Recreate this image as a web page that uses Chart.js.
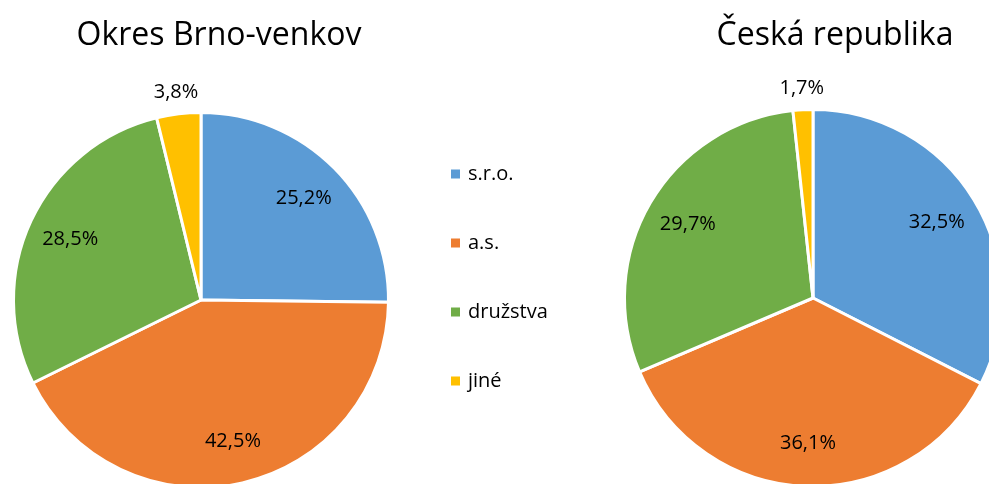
<!DOCTYPE html>
<html>
<head>
<meta charset="utf-8">
<script src="https://cdn.jsdelivr.net/npm/chart.js@4"></script>
<style>
html, body { margin:0; padding:0; background:#fff; overflow:hidden; width:989px; height:484px; }
#left { position:absolute; left:0; top:0; }
#right { position:absolute; left:600px; top:0; }
</style>
</head>
<body>
<canvas id="left" width="600" height="500"></canvas>
<canvas id="right" width="420" height="500"></canvas>
<script>
'use strict';

//Data
var categories = ['s.r.o.', 'a.s.', 'družstva', 'jiné'];
var brnoVenkov = [25.2, 42.5, 28.5, 3.8];       //Okres Brno-venkov
var ceskaRepublika = [32.5, 36.1, 29.7, 1.7];   //Česká republika
var colors = ['#5B9BD5', '#ED7D31', '#70AD47', '#FFC000'];

var fontName = '"Open Sans", "Noto Sans", sans-serif';

function fmt(v){
    return v.toFixed(1).replace('.', ',') + '%';
}

//Percent labels on slices, small slices go outside
var pieLabels = {
    id: 'pieLabels',
    afterDatasetsDraw: function(chart){
        var ctx = chart.ctx;
        var ds = chart.data.datasets[0];
        var meta = chart.getDatasetMeta(0);
        ctx.save();
        ctx.font = '20px ' + fontName;
        ctx.fillStyle = '#000';
        ctx.textAlign = 'center';
        ctx.textBaseline = 'middle';
        meta.data.forEach(function(arc, i){
            var p = arc.getProps(['x', 'y', 'startAngle', 'endAngle', 'outerRadius'], true);
            var mid = (p.startAngle + p.endAngle) / 2;
            var r = ds.data[i] < 5 ? p.outerRadius + 22 : p.outerRadius * 0.77;
            ctx.fillText(fmt(ds.data[i]), p.x + Math.cos(mid) * r, p.y + Math.sin(mid) * r);
        });
        ctx.restore();
    }
};

//Title drawn at its own x (not centered over the pie)
function titlePlugin(text, x){
    return {
        id: 'pieTitle',
        afterDraw: function(chart){
            var ctx = chart.ctx;
            ctx.save();
            ctx.font = '32px ' + fontName;
            ctx.fillStyle = '#000';
            ctx.textAlign = 'center';
            ctx.textBaseline = 'alphabetic';
            ctx.fillText(text, x, 45);
            ctx.restore();
        }
    };
}

//Legend between the two pies
var sideLegend = {
    id: 'sideLegend',
    afterDraw: function(chart){
        var ctx = chart.ctx;
        var bg = chart.data.datasets[0].backgroundColor;
        ctx.save();
        ctx.font = '20px ' + fontName;
        ctx.textAlign = 'left';
        ctx.textBaseline = 'middle';
        chart.data.labels.forEach(function(lbl, i){
            var y = 174 + i * 69;
            ctx.fillStyle = bg[i];
            ctx.fillRect(451, y - 4.5, 9, 9);
            ctx.fillStyle = '#000';
            ctx.fillText(lbl, 468, y);
        });
        ctx.restore();
    }
};

function makePie(id, values, padding, plugins){
    var ctx = document.getElementById(id).getContext('2d');
    return new Chart(ctx, {
        type: 'pie',
        data: {
            labels: categories,
            datasets: [{
                data: values,
                backgroundColor: colors,
                borderColor: '#fff',
                borderWidth: 3
            }]
        },
        options: {
            responsive: false,
            animation: false,
            layout: { padding: padding },
            plugins: {
                legend: { display: false },
                tooltip: { enabled: false }
            }
        },
        plugins: plugins
    });
}

window.leftPie = makePie('left', brnoVenkov,
    { left: 12, right: 210, top: 111, bottom: 11 },
    [pieLabels, titlePlugin('Okres Brno-venkov', 219), sideLegend]);

window.rightPie = makePie('right', ceskaRepublika,
    { left: 23, right: 17, top: 108, bottom: 12 },
    [pieLabels, titlePlugin('Česká republika', 235)]);
</script>
</body>
</html>
